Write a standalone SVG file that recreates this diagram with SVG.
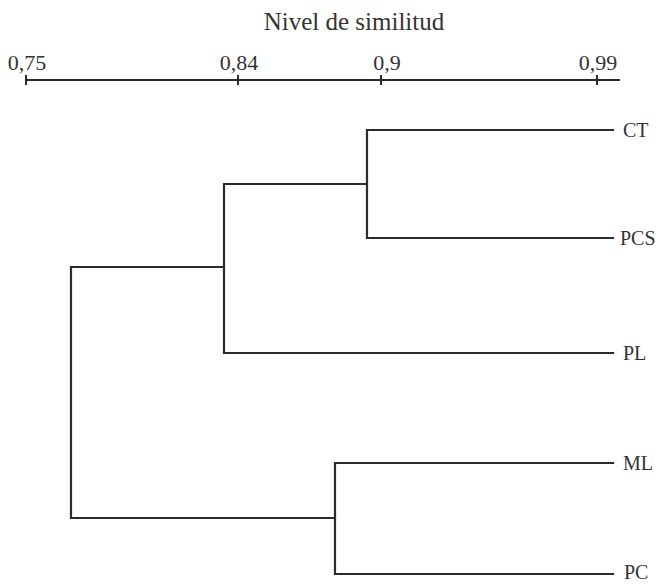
<svg xmlns="http://www.w3.org/2000/svg" width="659" height="585" viewBox="0 0 659 585">
  <style>
    .ax { fill: none; stroke: #2b2b2b; stroke-width: 2; }
    .br { fill: none; stroke: #2b2b2b; stroke-width: 2.2; stroke-linejoin: miter; stroke-linecap: square; }
    .t { font-family: "Liberation Serif", "Times New Roman", serif; fill: #333; }
    .lab { font-size: 20px; }
    .tick { font-size: 22px; }
  </style>
  <rect width="659" height="585" fill="#ffffff"/>

  <!-- similarity scale -->
  <g id="axis">
    <text class="t" x="354" y="30" font-size="25" text-anchor="middle">Nivel de similitud</text>
    <line class="ax" x1="25" y1="80" x2="620" y2="80"/>
    <line class="ax" x1="26" y1="75" x2="26" y2="85"/>
    <line class="ax" x1="238" y1="75" x2="238" y2="85"/>
    <line class="ax" x1="381" y1="75" x2="381" y2="85"/>
    <line class="ax" x1="597" y1="75" x2="597" y2="85"/>
    <text class="t tick" x="27" y="70" text-anchor="middle">0,75</text>
    <text class="t tick" x="239" y="70" text-anchor="middle">0,84</text>
    <text class="t tick" x="387" y="70" text-anchor="middle">0,9</text>
    <text class="t tick" x="598" y="70" text-anchor="middle">0,99</text>
  </g>

  <!-- dendrogram branches -->
  <g id="connectors">
    <path class="br" d="M613 130 H367 V238 H613"/>
    <path class="br" d="M367 184 H224 V353 H613"/>
    <path class="br" d="M224 267 H71 V518 H335"/>
    <path class="br" d="M613 463 H335 V574 H613"/>
  </g>

  <!-- leaf labels -->
  <g id="CT"><text class="t lab" x="623" y="137">CT</text></g>
  <g id="PCS"><text class="t lab" x="620" y="245">PCS</text></g>
  <g id="PL"><text class="t lab" x="623" y="360">PL</text></g>
  <g id="ML"><text class="t lab" x="623" y="470">ML</text></g>
  <g id="PC"><text class="t lab" x="624" y="579">PC</text></g>
</svg>
